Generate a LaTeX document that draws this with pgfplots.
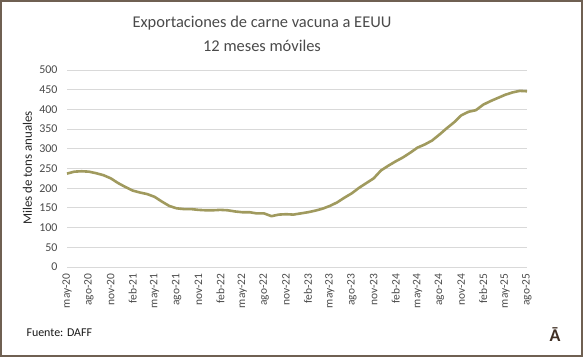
\documentclass[border=0pt]{standalone}
\usepackage{fontspec}
\setmainfont{Carlito}
\usepackage{pgfplots}
\pgfplotsset{compat=1.18}
\definecolor{linecol}{HTML}{A09A5E}
\definecolor{framecol}{HTML}{6F6052}
\definecolor{gridcol}{HTML}{D9D9D9}
\definecolor{txtcol}{HTML}{4A4A4A}
\definecolor{logocol}{HTML}{3F2E23}
\begin{document}
\begin{tikzpicture}[x=1bp,y=1bp]
\useasboundingbox (0,0) rectangle (583,357);
\draw[framecol, line width=2.2bp] (1.1,1.1) rectangle (581.9,355.9);
\node[txtcol, font=\fontsize{16.5}{19}\selectfont] at (262,334) {Exportaciones de carne vacuna a EEUU};
\node[txtcol, font=\fontsize{16.5}{19}\selectfont] at (262,311.5) {12 meses móviles};
\node[black!85, rotate=90, font=\fontsize{13}{15}\selectfont] at (27.5,189) {Miles de tons anuales};
\node[black!90, anchor=west, font=\fontsize{12}{14}\selectfont] at (23,24) {Fuente: DAFF};
\node[logocol, font=\fontsize{18}{20}\selectfont\bfseries] at (555,22) {Ā};
\begin{axis}[
  at={(67bp,90bp)}, anchor=south west, scale only axis,
  width=460bp, height=197bp,
  xmin=0, xmax=63, ymin=0, ymax=500,
  ytick={0,50,...,500},
  xtick={0,3,...,63},
  xticklabels={may-20,ago-20,nov-20,feb-21,may-21,ago-21,nov-21,feb-22,may-22,ago-22,nov-22,feb-23,may-23,ago-23,nov-23,feb-24,may-24,ago-24,nov-24,feb-25,may-25,ago-25},
  x tick label style={rotate=90, anchor=east, font=\fontsize{11.5}{13}\selectfont, text=txtcol},
  y tick label style={font=\fontsize{12}{14}\selectfont, text=txtcol},
  /pgf/number format/assume math mode=true,
  ymajorgrids, grid style={gridcol, line width=0.9bp},
  axis line style={draw=none},
  major tick length=0pt,
  xticklabel shift=3bp,
  yticklabel shift=6bp,
  clip=false,
]
\addplot[linecol, line width=2.6bp, line join=round] coordinates {
(0,237)(1,242)(2,243)(3,242)(4,238)(5,233)(6,225)(7,213)(8,203)(9,194)
(10,189)(11,185)(12,178)(13,166)(14,155)(15,149)(16,147)(17,147)(18,145)(19,144)
(20,144)(21,145)(22,144)(23,141)(24,139)(25,139)(26,136)(27,136)(28,129)(29,133)
(30,134)(31,133)(32,136)(33,139)(34,143)(35,148)(36,155)(37,164)(38,176)(39,187)
(40,201)(41,213)(42,225)(43,245)(44,257)(45,268)(46,278)(47,290)(48,303)(49,311)
(50,321)(51,336)(52,352)(53,367)(54,385)(55,394)(56,398)(57,412)(58,421)(59,429)
(60,437)(61,443)(62,447)(63,446)
};
\end{axis}
\end{tikzpicture}
\end{document}
